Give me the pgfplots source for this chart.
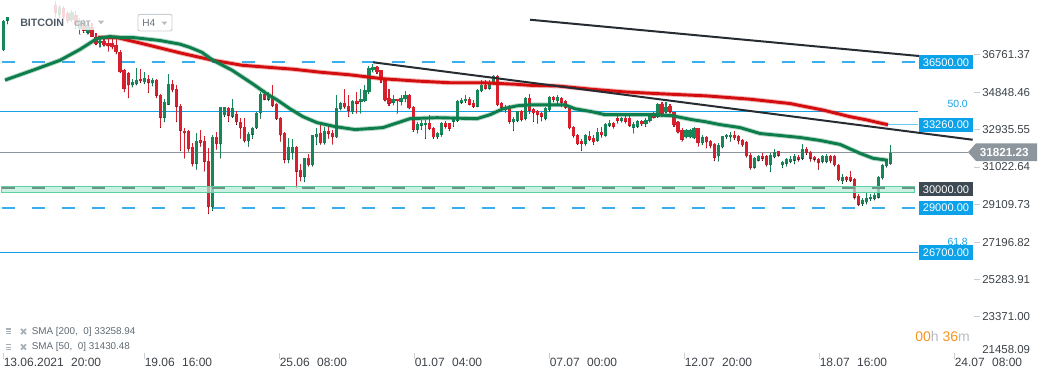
\documentclass[border=0pt]{standalone}
\usepackage{pgfplots}
\pgfplotsset{compat=1.18}
\usepackage{pgfplotstable}
\usepackage{fontspec}
\setmainfont{Liberation Sans}
\definecolor{cgreen}{HTML}{17875A}
\definecolor{cred}{HTML}{D71F2D}
\definecolor{smagreen}{HTML}{0E7D4C}
\definecolor{smared}{HTML}{D40E0E}
\definecolor{lvlblue}{HTML}{3AAEEE}
\definecolor{fibblue}{HTML}{14A2E8}
\definecolor{boxblue}{HTML}{0BA2E9}
\definecolor{boxdark}{HTML}{3D4A54}
\definecolor{pricegray}{HTML}{8C969C}
\definecolor{bandfill}{HTML}{B3EBD6}
\definecolor{bandline}{HTML}{5CD2A3}
\definecolor{banddash}{HTML}{6F9488}
\definecolor{tline}{HTML}{272C33}
\definecolor{txt}{HTML}{3C4248}
\definecolor{ticklight}{HTML}{C9CED2}
\definecolor{legtxt}{HTML}{5F6A73}
\definecolor{legicon}{HTML}{A9B1B7}
\definecolor{corange}{HTML}{F7941D}
\definecolor{clightgray}{HTML}{B5BCC2}
\definecolor{ctitle}{HTML}{4F5A65}
\definecolor{ccrt}{HTML}{A8AFB5}
\definecolor{lightseg}{HTML}{6CC8F3}

\pgfplotstableread{
i o h l c
-23 37081 38659 37081 38608
-22 38608 40100 38440 39900
-21 39900 40600 39750 40400
-19 40150 40800 40050 40600
-16 40000 40700 39850 40500
-13 40050 40400 39800 40200
-9 38913 39422 38760 39320
-6 38659 39167 38557 39066
-4 38201 38760 37900 38608
-2 37997 38608 37900 38404
1 37438 37743 37234 37590
9 35301 35621 35199 35453
10 35352 36166 35301 35555
12 35453 35962 35367 35657
14 35387 35657 35250 35555
17 33622 34589 33418 34436
18 34299 35876 34283 35367
25 31246 32823 30961 32437
29 29008 32706 28840 32604
31 32264 34182 31551 34182
32 33759 34182 33673 34182
34 33673 34604 33622 34095
38 32401 32910 32146 32808
39 32742 33164 32554 33078
40 33078 33927 33062 33841
41 33841 34945 33586 34858
43 34553 34945 34487 34777
48 31460 32569 31297 32096
49 31806 32503 31485 32096
52 30569 31551 30330 31536
54 31180 32757 31129 32706
55 32604 33078 32233 32808
57 32314 33164 32248 32950
60 32604 34777 32604 34131
61 34065 34436 34014 34385
64 33927 34538 33826 34472
66 34436 35113 33841 34589
67 34472 35286 34436 35031
68 34945 36303 34858 36166
69 36049 36384 35962 36217
74 34400 34807 34268 34573
76 34436 34807 34268 34639
77 34573 34980 34436 34807
80 32996 33418 32823 33281
81 33215 33505 32996 33368
82 33251 33505 32538 33368
85 32604 32910 32538 32823
86 32742 33418 32655 33368
89 33418 33673 33164 33586
90 33454 34522 33418 34472
91 34400 34639 34349 34553
92 34472 34777 34400 34604
95 34182 35113 34182 35062
96 34980 35540 34945 35316
98 35113 35540 35082 35418
99 35367 35794 35316 35759
104 33383 33673 32945 33535
105 33454 33963 33418 33963
107 33556 34690 33505 34639
112 33556 34182 33505 34095
113 34014 34741 33963 34690
115 34472 34777 34349 34690
122 32264 32772 32197 32742
125 32437 33078 32401 32910
127 32691 33332 32655 33281
128 33215 33505 33164 33332
131 33454 33673 33383 33586
134 33113 33418 32823 33281
135 33164 33505 33113 33454
137 33281 33586 33164 33505
138 33454 33841 33383 33759
140 33673 34400 33622 34349
142 33892 34436 33841 34182
147 32604 33047 32569 32996
148 32604 33047 32569 32996
149 32569 33164 32538 33113
151 32314 32742 32233 32604
155 31638 32314 31383 32233
156 32096 32655 32060 32655
157 32604 32772 32538 32742
158 32604 32910 32401 32742
164 31043 31587 31012 31551
165 31419 31724 31383 31673
168 31180 31806 30839 31724
169 31587 32030 31551 31857
171 31180 31383 31043 31348
172 31246 31551 31129 31500
173 31348 31638 31297 31521
174 31419 31755 31246 31638
176 31521 32264 31470 32030
181 31348 31724 31297 31673
182 31348 31755 31297 31673
186 30366 30737 30229 30569
191 29181 29516 29094 29399
192 29262 29771 29181 29516
193 29435 29720 29348 29567
194 29435 29771 29384 29654
195 29516 30620 29486 30569
196 30503 31216 30452 31180
197 31129 31419 31078 31383
198 31246 32233 31216 31821
}\greentab

\pgfplotstableread{
i o h l c
-20 40400 40700 40000 40150
-18 40600 40900 40100 40300
-17 40300 40500 39900 40000
-15 40500 40800 40200 40350
-14 40350 40450 39900 40050
-12 40200 40300 39800 39850
-11 39850 40000 39760 39800
-10 39422 39600 38811 39015
-8 39269 39371 38710 38811
-7 39015 39116 38506 38608
-5 38913 39116 38201 38404
-3 38557 38710 37997 38099
-1 38302 38506 37900 37794
0 37794 37997 37360 37387
2 37590 37692 37285 37336
3 37453 37656 37031 37285
4 37453 37743 37148 37234
5 37351 37743 36893 36980
6 37015 37081 35927 35962
7 36064 36115 34945 35097
8 35927 35962 34639 35301
11 35621 36115 35418 35489
13 35621 35810 34909 35403
15 35555 35621 34639 34741
16 34807 34858 33113 33622
19 35367 35555 34945 35031
20 35082 35301 33418 34182
21 34232 34349 31928 32945
22 32961 33078 31536 32823
23 32961 32990 31892 32009
24 32096 32314 31129 31246
26 32452 33011 32146 32314
27 32437 32655 30875 31348
28 31419 32060 28672 29008
30 32604 32910 31994 32264
33 34131 34150 33418 33724
35 33790 33978 33266 33383
36 33418 33586 32569 33078
37 33164 33586 32365 32401
42 34858 35047 34538 34553
44 34690 35286 34182 34232
45 34349 34370 33520 33546
46 33622 33673 32401 32706
47 32834 32910 31297 31460
50 32096 32146 30010 30849
51 30910 31231 30366 30569
53 31536 31740 31129 31180
56 32823 33266 32248 32314
58 32961 33317 32554 32772
59 32859 33011 32248 32604
62 34385 35113 34095 34146
63 34217 34777 33673 33978
65 34472 34945 33841 34349
70 36217 36268 35876 35962
71 36049 36070 35418 35657
72 35657 35680 34472 34522
73 34639 35082 34232 34349
75 34573 34590 33841 34472
78 34807 34830 34065 34095
79 34182 34232 32910 32996
83 33368 33759 32996 33047
84 33113 33130 32538 32604
87 33332 33454 33078 33164
88 33332 33350 32945 33047
93 34604 34690 34268 34299
94 34400 34522 34131 34182
97 35316 35540 35082 35113
100 35759 35794 34232 34268
101 34400 34436 34095 34131
102 34131 34268 33892 34014
103 34095 34299 33332 33418
106 33963 34014 33454 33505
108 34639 34858 33841 33963
109 34065 34095 33418 33841
110 33963 34014 33332 33759
111 33841 33927 33454 33673
114 34690 34741 34436 34522
116 34639 34690 34182 34400
117 34472 34522 34095 34131
118 34095 34131 33047 33078
119 33164 33215 32604 32655
120 32742 32772 32233 32264
121 32401 32538 31928 32264
123 32691 32945 32437 32487
124 32569 32706 32233 32350
126 32874 33164 32604 32706
129 33332 33383 33078 33164
130 33622 33759 33332 33454
132 33622 33759 33332 33418
133 33622 33790 33164 33215
136 33454 33505 33215 33281
139 33841 33927 33586 33622
141 34349 34436 33673 33759
143 34232 34349 33841 33927
144 33892 33927 33164 33251
145 33418 33454 32823 32874
146 32996 33078 32401 32487
150 33078 33113 32146 32314
152 32604 32655 32060 32365
153 32437 32487 32060 32146
154 32264 32314 31419 31551
159 32742 32945 32487 32569
160 32691 32742 32264 32401
161 32487 32538 32146 32197
162 32350 32401 31587 31638
163 31724 31806 30961 31043
166 31673 31806 31419 31521
167 31638 31689 31129 31180
170 31892 31928 31638 31673
175 31587 31724 31383 31470
177 32030 32096 31724 31806
178 31857 31892 31383 31521
179 31587 31638 31383 31470
180 31521 31551 30961 31297
183 31673 31724 31297 31383
184 31638 31724 31129 31180
185 31180 31216 30366 30402
187 30569 30620 30330 30402
188 30569 30875 30330 30366
189 30452 30503 29435 29516
190 29603 29690 29094 29145
}\redtab

\pgfplotsset{candle/.style={only marks, mark=*, mark size=0.01pt, mark options={draw=none, fill=none},
  error bars/.cd, y dir=plus, y explicit, error mark=none}}

\begin{document}
\begin{tikzpicture}
\path[use as bounding box] (0,0) rectangle (780.75pt,-285pt);
\begin{axis}[
  at={(0,0)}, anchor=north west, scale only axis,
  width=780.75pt, height=285pt,
  xmin=-23.916, xmax=235.43,
  ymin=20133.66, ymax=39672.5,
  axis lines=none, ticks=none,
  clip mode=individual,
]
% level lines
\addplot[color=lvlblue, line width=1.3pt, dash pattern=on 10pt off 12.5pt, dash phase=21.2pt] coordinates {(-23.916,36500) (204.78,36500)};
\addplot[color=lvlblue, line width=1.3pt, dash pattern=on 10pt off 12.5pt, dash phase=21.2pt] coordinates {(-23.916,28995) (204.78,28995)};
\addplot[color=fibblue, line width=0.8pt] coordinates {(-23.916,33929) (204.78,33929)};
\addplot[color=fibblue, line width=0.8pt] coordinates {(-23.916,26700) (204.78,26700)};
\addplot[color=pricegray, line width=0.8pt] coordinates {(-23.916,31821.23) (217.24,31821.23)};
% candles: wicks
\addplot[candle, error bar style={draw=cgreen, line width=0.8pt}]
  table[x=i, y=l, y error expr=\thisrow{h}-\thisrow{l}] {\greentab};
\addplot[candle, error bar style={draw=cred, line width=0.8pt}]
  table[x=i, y=l, y error expr=\thisrow{h}-\thisrow{l}] {\redtab};
% candles: bodies
\addplot[candle, error bar style={draw=cgreen, line width=2.4pt}]
  table[x=i, y=o, y error expr=\thisrow{c}-\thisrow{o}] {\greentab};
\addplot[candle, error bar style={draw=cred, line width=2.4pt}]
  table[x=i, y=c, y error expr=\thisrow{o}-\thisrow{c}] {\redtab};
% 30000 zone
\addplot[draw=bandline, line width=0.75pt, fill=bandfill, fill opacity=0.7] coordinates {(-23.5,29764) (204.03,29764) (204.03,30109) (-23.5,30109)} -- cycle;
\addplot[color=banddash, line width=1.4pt, dash pattern=on 10pt off 12.5pt, dash phase=21.2pt] coordinates {(-23.916,30000) (204.03,30000)};
% SMA 200
\addplot[color=smared, line width=3.6pt, opacity=0.3] coordinates {(0.5,37743) (5.23,37743) (13.45,37336) (20.93,36954) (29.15,36572) (36.37,36318) (42.60,36217) (49.08,36115) (55.80,35962) (63.28,35825) (71.50,35622) (79.97,35504) (88.19,35418) (96.41,35418) (104.88,35337) (108.12,35286) (115.10,35250) (123.57,35082) (131.79,34945) (140.01,34858) (148.48,34777) (152.22,34741) (162.93,34573) (172.90,34349) (181.12,34014) (187.84,33673) (192.08,33505) (194.57,33383) (197.31,33259)};
\addplot[color=smared, line width=2.2pt] coordinates {(0.5,37743) (5.23,37743) (13.45,37336) (20.93,36954) (29.15,36572) (36.37,36318) (42.60,36217) (49.08,36115) (55.80,35962) (63.28,35825) (71.50,35622) (79.97,35504) (88.19,35418) (96.41,35418) (104.88,35337) (108.12,35286) (115.10,35250) (123.57,35082) (131.79,34945) (140.01,34858) (148.48,34777) (152.22,34741) (162.93,34573) (172.90,34349) (181.12,34014) (187.84,33673) (192.08,33505) (194.57,33383) (197.31,33259)};
% SMA 50
\addplot[color=smagreen, line width=3.6pt, opacity=0.3] coordinates {(-22.67,35555) (-15.70,36064) (-8.97,36572) (-3.99,37132) (0.25,37692) (3.49,37794) (5.98,37743) (9.22,37743) (15.94,37590) (20.93,37402) (23.42,37234) (26.41,36980) (29.15,36572) (33.88,36064) (39.11,35352) (42.60,34843) (45.09,34538) (48.33,34080) (51.57,33673) (55.06,33368) (59.54,33164) (64.52,33011) (68.26,33062) (71.50,33113) (78.23,33571) (84.95,33622) (94.92,33571) (98.16,33775) (101.39,34080) (104.88,34232) (108.12,34283) (116.84,34283) (119.33,34080) (123.57,33927) (126.81,33775) (131.79,33775) (138.52,33775) (143.50,33724) (148.48,33520) (151.72,33418) (155.46,33266) (160.44,33113) (165.42,32808) (170.40,32706) (175.39,32604) (180.37,32452) (185.35,32248) (190.33,31790) (193.57,31536) (197.31,31430)};
\addplot[color=smagreen, line width=2.2pt] coordinates {(-22.67,35555) (-15.70,36064) (-8.97,36572) (-3.99,37132) (0.25,37692) (3.49,37794) (5.98,37743) (9.22,37743) (15.94,37590) (20.93,37402) (23.42,37234) (26.41,36980) (29.15,36572) (33.88,36064) (39.11,35352) (42.60,34843) (45.09,34538) (48.33,34080) (51.57,33673) (55.06,33368) (59.54,33164) (64.52,33011) (68.26,33062) (71.50,33113) (78.23,33571) (84.95,33622) (94.92,33571) (98.16,33775) (101.39,34080) (104.88,34232) (108.12,34283) (116.84,34283) (119.33,34080) (123.57,33927) (126.81,33775) (131.79,33775) (138.52,33775) (143.50,33724) (148.48,33520) (151.72,33418) (155.46,33266) (160.44,33113) (165.42,32808) (170.40,32706) (175.39,32604) (180.37,32452) (185.35,32248) (190.33,31790) (193.57,31536) (197.31,31430)};
% trend lines
\addplot[color=tline, line width=1.5pt] coordinates {(108.12,38659) (207.8,36740)};
\addplot[color=tline, line width=1.5pt] coordinates {(69.01,36471) (218.41,32487)};
\addplot[color=lightseg, line width=1.1pt] coordinates {(197.31,33260) (204.78,33260)};
\end{axis}

\begin{scope}[x=0.75pt,y=-0.75pt]
% top-left header
\fill[white] (0,0) rectangle (15,17);
\fill[white, fill opacity=0.82] (15,0) rectangle (180,30);
\node[anchor=west, inner sep=0, text=ctitle, font=\bfseries\fontsize{8}{9}\selectfont] at (20,22.7) {BITCOIN};
\node[anchor=west, inner sep=0, text=ccrt, font=\bfseries\fontsize{6}{7}\selectfont] at (74,23.7) {CRT};
\fill[clightgray] (98,20.7) -- (104,20.7) -- (101,24.2) -- cycle;
\draw[ticklight, line width=0.7pt, rounded corners=1.5pt] (138,14.3) rectangle (172,31);
\node[anchor=west, inner sep=0, text=ctitle!85, font=\fontsize{7.6}{8}\selectfont] at (142,23.3) {H4};
\fill[clightgray] (161.7,21.7) -- (167.2,21.7) -- (164.45,25) -- cycle;

% fib labels
\node[anchor=east, inner sep=0, text=fibblue, font=\fontsize{7.8}{8}\selectfont] at (968,103.5) {50.0};
\node[anchor=east, inner sep=0, text=fibblue, font=\fontsize{7.8}{8}\selectfont] at (968,241.5) {61.8};

% level boxes
\foreach \yy/\tt in {62.2/36500.00, 125/33260.00, 207.8/29000.00, 252.5/26700.00}{
  \node[fill=boxblue, text=white, minimum width=40.5pt, minimum height=10.9pt, inner sep=0, font=\fontsize{8.3}{9}\selectfont] at (946,\yy) {\tt};
}
\node[fill=boxdark, text=white, minimum width=40.5pt, minimum height=10.9pt, inner sep=0, font=\fontsize{8.3}{9}\selectfont] at (946,189.2) {30000.00};

% y tick labels
\foreach \yy/\tt in {54.3/36761.37, 92.3/34848.46, 129.3/32935.55, 167/31022.64, 204.7/29109.73, 242.3/27196.82, 279.3/25283.91, 316.7/23371.00}{
  \draw[ticklight, line width=0.7pt] (974,\yy) -- (980,\yy);
  \node[anchor=west, inner sep=0, text=txt, font=\fontsize{8.6}{9}\selectfont] at (982,\yy) {\tt};
}
\node[anchor=west, inner sep=0, text=txt, font=\fontsize{8.6}{9}\selectfont] at (982,349.3) {21458.09};

% current price label
\fill[pricegray] (968,152.2) -- (976,143.3) -- (1037,143.3) -- (1037,161) -- (976,161) -- cycle;
\node[anchor=west, inner sep=0, text=white, font=\bfseries\fontsize{8.8}{9}\selectfont] at (979.5,152.2) {31821.23};

% x tick labels
\foreach \xx/\dd/\hh in {3/13.06.2021/20:00, 144/19.06/16:00, 279/25.06/08:00, 414/01.07/04:00, 549/07.07/00:00, 684/12.07/20:00, 819/18.07/16:00, 954/24.07/08:00}{
  \draw[ticklight, line width=0.6pt] (\xx,353) -- (\xx,358.5);
  \node[anchor=west, inner sep=0, text=txt, font=\fontsize{9}{10}\selectfont] at (\xx+0.5,362.5) {\dd\hspace{5.5pt}\hh};
}

% countdown
\node[anchor=west, inner sep=0, font=\fontsize{10.5}{11}\selectfont] at (915,336) {\textcolor{corange}{00}\textcolor{clightgray}{h} \textcolor{corange}{36}\textcolor{clightgray}{m}};

% legend
\foreach \yy/\tt in {331.5/{SMA [200,\ \ 0] 33258.94}, 347/{SMA [50,\ \ 0] 31430.48}}{
  \draw[legicon, line width=0.9pt] (6,\yy-2.6) -- (11,\yy-2.6);
  \draw[legicon, line width=0.7pt] (6,\yy) -- (11,\yy) (6,\yy+2.4) -- (11,\yy+2.4);
  \draw[legicon, line width=1.3pt] (21,\yy-2.6) -- (26,\yy+2.6) (21,\yy+2.6) -- (26,\yy-2.6);
  \node[anchor=west, inner sep=0, text=legtxt, font=\fontsize{7.4}{8}\selectfont] at (31.5,\yy) {\tt};
}
\end{scope}
\end{tikzpicture}
\end{document}
